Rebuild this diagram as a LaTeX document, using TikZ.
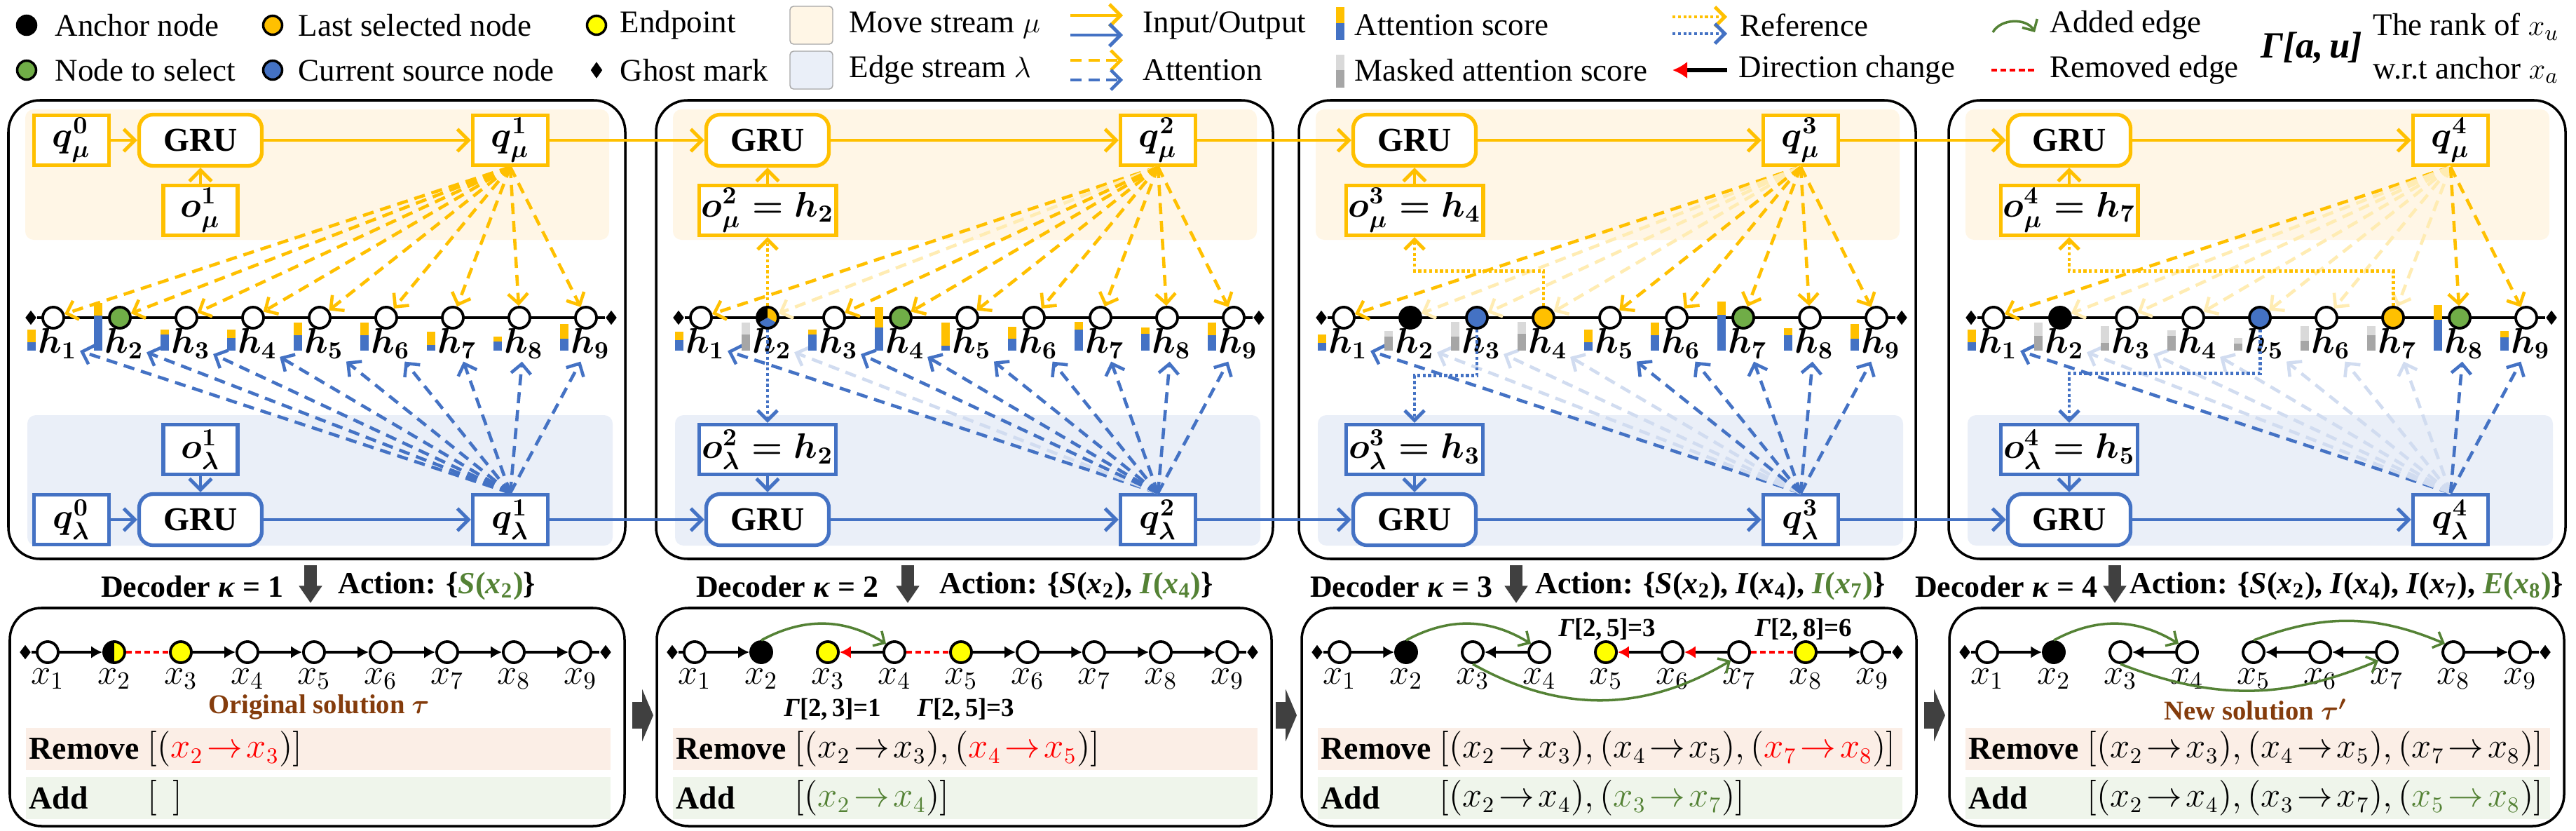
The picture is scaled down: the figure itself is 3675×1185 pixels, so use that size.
\documentclass[tikz,border=0pt]{standalone}
\usepackage{amsmath}
\usepackage[no-math]{fontspec}
\setmainfont{Liberation Serif}
\usetikzlibrary{arrows.meta,shapes.geometric,calc}

\definecolor{mugold}{HTML}{FFC000}
\definecolor{lamblue}{HTML}{4472C4}
\definecolor{mufade}{HTML}{FFECB3}
\definecolor{lamfade}{HTML}{D1DCF0}
\definecolor{mubg}{HTML}{FFF6E6}
\definecolor{lambg}{HTML}{EAEFF8}
\definecolor{selgreen}{HTML}{70AD47}
\definecolor{addgreen}{HTML}{548235}
\definecolor{endyellow}{HTML}{FFFF00}
\definecolor{solbrown}{HTML}{843C0C}
\definecolor{rembg}{HTML}{FBEEE6}
\definecolor{addbg}{HTML}{EFF5EB}
\definecolor{darrow}{HTML}{404040}
\definecolor{maskhi}{HTML}{D9D9D9}
\definecolor{masklo}{HTML}{A6A6A6}
\definecolor{legedge}{HTML}{A6A6A6}

\tikzset{
    legtxt/.style={anchor=west, inner sep=0pt, font=\fontsize{12.8}{15}\selectfont},
    legdot/.style={circle, draw, line width=1pt, minimum size=0.27cm, inner sep=0pt},
    hnode/.style={circle, draw, line width=1.1pt, fill=white, minimum size=0.3cm, inner sep=0pt},
    ghost/.style={diamond, fill=black, minimum width=0.16cm, minimum height=0.21cm, inner sep=0pt},
    blank/.style={fill=white},
    anc/.style={fill=black},
    tosel/.style={fill=selgreen},
    srcnode/.style={fill=lamblue},
    lastsel/.style={fill=mugold},
    endp/.style={fill=endyellow},
    half/.style={fill=endyellow, path picture={\fill[black] (path picture bounding box.north west) rectangle (path picture bounding box.south);}},
    tripie/.style={fill=white, path picture={
        \fill[black] (path picture bounding box.center) -- ++(90:0.3cm) arc[start angle=90, end angle=210, radius=0.3cm] -- cycle;
        \fill[mugold] (path picture bounding box.center) -- ++(-30:0.3cm) arc[start angle=-30, end angle=90, radius=0.3cm] -- cycle;
        \fill[lamblue] (path picture bounding box.center) -- ++(210:0.3cm) arc[start angle=210, end angle=330, radius=0.3cm] -- cycle;}},
    hlab/.style={inner sep=1pt, font=\fontsize{14}{16}\selectfont\boldmath},
    xlab/.style={inner sep=1pt, font=\fontsize{14.5}{16}\selectfont},
    mubox/.style={draw=mugold, line width=1.5pt, fill=white, minimum width=1.07cm, minimum height=0.71cm, inner sep=1pt, font=\fontsize{14.5}{16}\selectfont\boldmath},
    lambox/.style={mubox, draw=lamblue},
    mugru/.style={mubox, rounded corners=0.2cm, minimum width=1.75cm, minimum height=0.73cm, font=\fontsize{13.5}{15}\selectfont\bfseries},
    lamgru/.style={mugru, draw=lamblue},
    muflow/.style={draw=mugold, line width=1.4pt, -{Straight Barb[length=4.5pt,width=9pt]}},
    lamflow/.style={muflow, draw=lamblue},
    muatt/.style={draw=mugold, line width=1.3pt, dash pattern=on 4.5pt off 2.8pt, -{Straight Barb[length=4pt,width=8pt]}},
    lamatt/.style={muatt, draw=lamblue},
    muref/.style={draw=mugold, line width=1.4pt, dash pattern=on 1.2pt off 1pt, -{Straight Barb[length=4pt,width=8pt]}},
    lamref/.style={muref, draw=lamblue},
    link/.style={line width=1.1pt},
    fwd/.style={line width=1.1pt, -{Latex[length=4.5pt,width=5pt]}},
    flip/.style={line width=1.1pt, -{Latex[length=4.5pt,width=5pt,color=red]}},
    removed/.style={draw=red, line width=1.1pt, dash pattern=on 2.4pt off 1.3pt},
    added/.style={draw=addgreen, line width=1pt, -{Straight Barb[length=3.5pt,width=7pt]}},
    panel/.style={line width=1pt, rounded corners=0.45cm},
    bigarrow/.style={draw=darrow, line width=5pt, -{Triangle[length=7pt,width=9pt]}},
    steparrow/.style={draw=darrow, line width=11pt, -{Triangle[length=4.5pt,width=21pt]}},
    dectxt/.style={inner sep=0pt, font=\fontsize{12.5}{14}\selectfont\bfseries},
    rowtxt/.style={anchor=west, inner sep=0pt, font=\fontsize{13}{15}\selectfont\bfseries},
    listtxt/.style={anchor=west, inner sep=0pt, font=\fontsize{13.5}{16}\selectfont},
    rank/.style={inner sep=0pt, font=\fontsize{10.5}{12}\selectfont\bfseries},
    soltxt/.style={inner sep=0pt, text=solbrown, font=\fontsize{11}{13}\selectfont\bfseries\boldmath},
}

\begin{document}
\begin{tikzpicture}[x=0.01cm, y=0.01cm]

    \def \ra {-36}
    \def \rb {-100}
    \def \ymu {-200}
    \def \yomu {-300}
    \def \ychain {-453}
    \def \ylab {-490}
    \def \ybar {-500}
    \def \yolam {-641}
    \def \ylam {-741}
    \def \yx {-930}
    \def \yxlab {-968}
    \def \ed#1#2{x_{#1}\!\rightarrow\!x_{#2}}
    \def \xv#1{\textit{x}\textsubscript{#1}}

    \useasboundingbox (0,0) rectangle (3675,-1185);

    % Legend, first row
    \node[legdot, anc] (ka) at (38,\ra) {};
    \node[legtxt] (ka-t) at (78,\ra) {Anchor node};
    \node[legdot, lastsel] (kl) at (389,\ra) {};
    \node[legtxt] (kl-t) at (425,\ra) {Last selected node};
    \node[legdot, endp] (ke) at (851,\ra) {};
    \node[legtxt] (ke-t) at (884,\ra) {Endpoint};
    \draw[draw=legedge, fill=mubg, rounded corners=0.05cm] (1127,-9) rectangle (1188,-63);
    \node[legtxt] (km-t) at (1211,\ra) {Move stream $\mu$};
    \coordinate (ki1) at (1527,-22);
    \coordinate (ki2) at (1602,-22);
    \coordinate (ki3) at (1527,-50);
    \coordinate (ki4) at (1602,-50);
    \draw[muflow] (ki1) -- (ki2);
    \draw[lamflow] (ki3) -- (ki4);
    \node[legtxt] (ki-t) at (1630,\ra) {Input/Output};
    \fill[lamblue] (1906,-57) rectangle (1918,-33);
    \fill[mugold] (1906,-33) rectangle (1918,-10);
    \node[legtxt] (kb-t) at (1932,\ra) {Attention score};
    \coordinate (kr1) at (2386,-24);
    \coordinate (kr2) at (2464,-24);
    \coordinate (kr3) at (2386,-48);
    \coordinate (kr4) at (2464,-48);
    \draw[muref] (kr1) -- (kr2);
    \draw[lamref] (kr3) -- (kr4);
    \node[legtxt] (kr-t) at (2482,\ra) {Reference};
    \coordinate (kn1) at (2843,-46);
    \coordinate (kn2) at (2903,-46);
    \draw[added] (kn1) to[bend left=60] (kn2);
    \node[legtxt] (kn-t) at (2924,\ra) {Added edge};
    \node[inner sep=0pt, font=\fontsize{15}{17}\selectfont\bfseries\itshape] (kg-r) at (3298,-68) {Γ[a,\,u]};
    \node[legtxt] (kq-t) at (3385,-38) {The rank of $x_{u}$};

    % Legend, second row
    \node[legdot, tosel] (ks) at (38,\rb) {};
    \node[legtxt] (ks-t) at (78,\rb) {Node to select};
    \node[legdot, srcnode] (kc) at (389,\rb) {};
    \node[legtxt] (kc-t) at (425,\rb) {Current source node};
    \node[ghost, minimum width=0.17cm, minimum height=0.24cm] (kg) at (851,\rb) {};
    \node[legtxt] (kg-t) at (884,\rb) {Ghost mark};
    \draw[draw=legedge, fill=lambg, rounded corners=0.05cm] (1127,-73) rectangle (1188,-127);
    \node[legtxt] (kd-t) at (1211,\rb) {Edge stream $\lambda$};
    \coordinate (kt1) at (1527,-86);
    \coordinate (kt2) at (1602,-86);
    \coordinate (kt3) at (1527,-114);
    \coordinate (kt4) at (1602,-114);
    \draw[muatt] (kt1) -- (kt2);
    \draw[lamatt] (kt3) -- (kt4);
    \node[legtxt] (kt-t) at (1630,\rb) {Attention};
    \fill[masklo] (1906,-125) rectangle (1918,-100);
    \fill[maskhi] (1906,-100) rectangle (1918,-78);
    \node[legtxt] (kx-t) at (1932,\rb) {Masked attention score};
    \coordinate (kf1) at (2464,\rb);
    \coordinate (kf2) at (2386,\rb);
    \draw[line width=1.8pt, -{Latex[length=6pt,width=7pt,color=red]}] (kf1) -- (kf2);
    \node[legtxt] (kf-t) at (2480,\rb) {Direction change};
    \coordinate (kv1) at (2841,\rb);
    \coordinate (kv2) at (2906,\rb);
    \draw[removed] (kv1) -- (kv2);
    \node[legtxt] (kv-t) at (2924,\rb) {Removed edge};
    \node[legtxt] (kw-t) at (3385,\rb) {w.r.t anchor $x_{a}$};

    % Decoder steps: frame, move stream, edge stream
    \foreach \pk/\lx/\gx/\ow/\omt/\olt in {
        1/12/274/1.06cm/{$o^{1}_{\mu}$}/{$o^{1}_{\lambda}$},
        2/936/159/1.82cm/{$o^{2}_{\mu}=h_{2}$}/{$o^{2}_{\lambda}=h_{2}$},
        3/1853/165/1.82cm/{$o^{3}_{\mu}=h_{4}$}/{$o^{3}_{\lambda}=h_{3}$},
        4/2780/172/1.82cm/{$o^{4}_{\mu}=h_{7}$}/{$o^{4}_{\lambda}=h_{5}$}}{
        \draw[panel] (\lx,-143) rectangle ++(880,-654);
        \fill[mubg, rounded corners=0.12cm] (\lx+24,-156) rectangle (\lx+857,-342);
        \fill[lambg, rounded corners=0.12cm] (\lx+27,-592) rectangle (\lx+862,-778);
        \node[mugru] (gmu\pk) at (\lx+\gx,\ymu) {GRU};
        \node[mubox] (qmu\pk) at (\lx+716,\ymu) {$q^{\pk}_{\mu}$};
        \node[mubox, minimum width=\ow] (omu\pk) at (\lx+\gx,\yomu) {\omt};
        \node[lamgru] (glam\pk) at (\lx+\gx,\ylam) {GRU};
        \node[lambox] (qlam\pk) at (\lx+716,\ylam) {$q^{\pk}_{\lambda}$};
        \node[lambox, minimum width=\ow] (olam\pk) at (\lx+\gx,\yolam) {\olt};
        \node[ghost] (gl\pk) at (\lx+32,\ychain) {};
        \node[ghost] (gr\pk) at (\lx+860,\ychain) {};
        \draw[link] (gl\pk) -- (gr\pk);
    }
    \node[mubox] (qmu0) at (102,\ymu) {$q^{0}_{\mu}$};
    \node[lambox] (qlam0) at (102,\ylam) {$q^{0}_{\lambda}$};

    % Hidden nodes h_i: mask / score top / score bottom / node kind
    \foreach \pk/\lx/\dat in {
        1/12/{0/18/12/blank, 0/18/50/tosel, 0/7/23/blank, 0/12/18/blank, 0/18/22/blank, 0/18/22/blank, 0/19/8/blank, 0/7/13/blank, 0/21/17/blank},
        2/936/{0/12/15/blank, 1/17/23/tripie, 0/7/23/blank, 0/29/33/tosel, 0/33/7/blank, 0/17/17/blank, 0/11/30/blank, 0/9/24/blank, 0/18/22/blank},
        3/1853/{0/12/11/blank, 1/8/20/anc, 1/21/20/srcnode, 1/17/24/lastsel, 0/18/12/blank, 0/18/22/blank, 0/19/51/tosel, 0/10/22/blank, 0/21/17/blank},
        4/2780/{0/18/12/blank, 1/19/21/anc, 1/24/11/blank, 1/8/21/blank, 1/8/10/srcnode, 1/21/14/blank, 1/13/22/lastsel, 0/21/44/tosel, 0/9/19/blank}}{
        \foreach \m/\ya/\yb/\f [count=\i] in \dat {
            \pgfmathsetmacro\hx{\lx+64+95*(\i-1)}
            \ifnum\m=1 \def\ctop{maskhi}\def\cbot{masklo}\def\cmu{mufade}\def\clam{lamfade}
            \else \def\ctop{mugold}\def\cbot{lamblue}\def\cmu{mugold}\def\clam{lamblue}\fi
            \node[hnode, \f] (h\pk-\i) at (\hx,\ychain) {};
            \node[hlab] (lb\pk-\i) at (\hx+6,\ylab) {$h_{\i}$};
            \fill[\cbot] (\hx-37,\ybar) rectangle ++(12,\yb);
            \fill[\ctop] (\hx-37,\ybar+\yb) rectangle ++(12,\ya);
            \draw[muatt, draw=\cmu] (qmu\pk.south) -- (h\pk-\i);
            \draw[lamatt, draw=\clam] (qlam\pk.north) -- (lb\pk-\i);
        }
    }

    % References to the selected nodes
    \draw[muref] (h2-2) -- (omu2);
    \draw[lamref] (h2-2) -- (olam2);
    \draw[muref] (h3-4.north) -- ++(0,50) -| (omu3.south);
    \draw[lamref] (h3-3.south) -- ++(0,-66) -| (olam3.north);
    \draw[muref] (h4-7.north) -- ++(0,50) -| (omu4.south);
    \draw[lamref] (h4-5.south) -- ++(0,-63) -| (olam4.north);

    % Streams
    \draw[muflow] (qmu0) -- (gmu1);
    \draw[lamflow] (qlam0) -- (glam1);
    \foreach \pk in {1,...,4}{
        \draw[muflow] (omu\pk) -- (gmu\pk);
        \draw[muflow] (gmu\pk) -- (qmu\pk);
        \draw[lamflow] (olam\pk) -- (glam\pk);
        \draw[lamflow] (glam\pk) -- (qlam\pk);
    }
    \foreach \pk [evaluate=\pk as \nx using int(\pk+1)] in {1,2,3}{
        \draw[muflow] (qmu\pk) -- (gmu\nx);
        \draw[lamflow] (qlam\pk) -- (glam\nx);
    }

    % Decoder captions
    \foreach \pk/\xd/\xa/\xb/\act in {
        1/405/443/482/{\{\textcolor{addgreen}{\textit{S}(\xv{2})}\}},
        2/1254/1295/1340/{\{\textit{S}(\xv{2}), \textcolor{addgreen}{\textit{I}(\xv{4})}\}},
        3/2130/2163/2190/{\{\textit{S}(\xv{2}), \textit{I}(\xv{4}), \textcolor{addgreen}{\textit{I}(\xv{7})}\}},
        4/2993/3017/3038/{\{\textit{S}(\xv{2}), \textit{I}(\xv{4}), \textit{I}(\xv{7}), \textcolor{addgreen}{\textit{E}(\xv{8})}\}}}{
        \node[dectxt, anchor=east] (dec\pk) at (\xd,-836) {Decoder \textit{κ} = \pk};
        \coordinate (dt\pk) at (\xa,-806);
        \coordinate (dh\pk) at (\xa,-860);
        \draw[bigarrow] (dt\pk) -- (dh\pk);
        \node[dectxt, anchor=west] (act\pk) at (\xb,-836) {Action: \act};
    }

    % Solutions after each step
    \foreach \pk/\bx/\dat in {
        1/14/{blank,half,endp,blank,blank,blank,blank,blank,blank},
        2/937/{blank,anc,endp,blank,endp,blank,blank,blank,blank},
        3/1857/{blank,anc,blank,blank,endp,blank,blank,endp,blank},
        4/2781/{blank,anc,blank,blank,blank,blank,blank,blank,blank}}{
        \draw[panel] (\bx,-867) rectangle ++(877,-311);
        \fill[rembg] (\bx+23,-1038) rectangle (\bx+857,-1098);
        \fill[addbg] (\bx+23,-1108) rectangle (\bx+857,-1168);
        \node[rowtxt] (rm\pk) at (\bx+27,-1068) {Remove};
        \node[rowtxt] (ad\pk) at (\bx+27,-1138) {Add};
        \node[ghost] (bl\pk) at (\bx+22,\yx) {};
        \node[ghost] (br\pk) at (\bx+850,\yx) {};
        \foreach \f [count=\i] in \dat {
            \node[hnode, \f] (x\pk-\i) at (\bx+54+95*\i-95,\yx) {};
            \node[xlab] (xl\pk-\i) at (\bx+54+95*\i-95,\yxlab) {$x_{\i}$};
        }
    }
    \foreach \pk/\xs in {1/902, 2/1820, 3/2745}{
        \coordinate (st\pk) at (\xs,-1020);
        \coordinate (sh\pk) at (\xs+30,-1020);
        \draw[steparrow] (st\pk) -- (sh\pk);
    }

    % Step 1
    \draw[link] (bl1) -- (x1-1);
    \draw[fwd] (x1-1) -- (x1-2);
    \draw[removed] (x1-2) -- (x1-3);
    \foreach \i [evaluate=\i as \nx using int(\i+1)] in {3,...,8} \draw[fwd] (x1-\i) -- (x1-\nx);
    \draw[link] (x1-9) -- (br1);
    \node[soltxt] (orig) at (455,-1008) {Original solution $\tau$};
    \node[listtxt] (rl1) at (210,-1068) {$[(\textcolor{red}{\ed{2}{3}})]$};
    \node[listtxt] (al1) at (210,-1138) {$[\;\,]$};

    % Step 2
    \draw[link] (bl2) -- (x2-1);
    \draw[fwd] (x2-1) -- (x2-2);
    \draw[flip] (x2-4) -- (x2-3);
    \draw[removed] (x2-4) -- (x2-5);
    \foreach \i [evaluate=\i as \nx using int(\i+1)] in {5,...,8} \draw[fwd] (x2-\i) -- (x2-\nx);
    \draw[link] (x2-9) -- (br2);
    \draw[added] (x2-2.north) to[bend left=30] (x2-4.north west);
    \node[rank] (g23) at ($(x2-3)+(7,-82)$) {\textit{Γ}[2,\,3]=1};
    \node[rank] (g25) at ($(x2-5)+(7,-82)$) {\textit{Γ}[2,\,5]=3};
    \node[listtxt] (rl2) at (1133,-1068) {$[(\ed{2}{3}), (\textcolor{red}{\ed{4}{5}})]$};
    \node[listtxt] (al2) at (1133,-1138) {$[(\textcolor{addgreen}{\ed{2}{4}})]$};

    % Step 3
    \draw[link] (bl3) -- (x3-1);
    \draw[fwd] (x3-1) -- (x3-2);
    \draw[fwd] (x3-4) -- (x3-3);
    \draw[flip] (x3-6) -- (x3-5);
    \draw[flip] (x3-7) -- (x3-6);
    \draw[removed] (x3-7) -- (x3-8);
    \draw[fwd] (x3-8) -- (x3-9);
    \draw[link] (x3-9) -- (br3);
    \draw[added] (x3-2.north) to[bend left=30] (x3-4.north west);
    \draw[added] (x3-3.south) to[bend right=30] (x3-7.south west);
    \node[rank] (g35) at ($(x3-5)+(2,32)$) {\textit{Γ}[2,\,5]=3};
    \node[rank] (g38) at ($(x3-8)+(-3,32)$) {\textit{Γ}[2,\,8]=6};
    \node[listtxt] (rl3) at (2053,-1068) {$[(\ed{2}{3}), (\ed{4}{5}), (\textcolor{red}{\ed{7}{8}})]$};
    \node[listtxt] (al3) at (2053,-1138) {$[(\ed{2}{4}), (\textcolor{addgreen}{\ed{3}{7}})]$};

    % Step 4
    \draw[link] (bl4) -- (x4-1);
    \draw[fwd] (x4-1) -- (x4-2);
    \draw[fwd] (x4-4) -- (x4-3);
    \draw[fwd] (x4-6) -- (x4-5);
    \draw[fwd] (x4-7) -- (x4-6);
    \draw[fwd] (x4-8) -- (x4-9);
    \draw[link] (x4-9) -- (br4);
    \draw[added] (x4-2.north) to[bend left=30] (x4-4.north west);
    \draw[added] (x4-5.north) to[bend left=22] (x4-8.north west);
    \draw[added] (x4-3.south) to[bend right=22] (x4-7.south west);
    \node[soltxt] (news) at (3218,-1012) {New solution $\tau'$};
    \node[listtxt] (rl4) at (2977,-1068) {$[(\ed{2}{3}), (\ed{4}{5}), (\ed{7}{8})]$};
    \node[listtxt] (al4) at (2977,-1138) {$[(\ed{2}{4}), (\ed{3}{7}), (\textcolor{addgreen}{\ed{5}{8}})]$};

\end{tikzpicture}
\end{document}
